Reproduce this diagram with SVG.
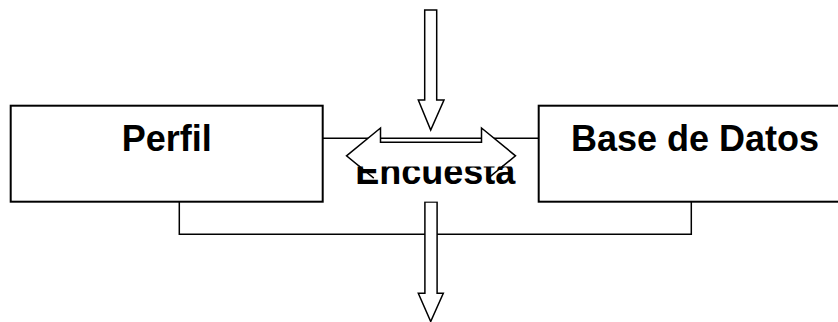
<svg xmlns="http://www.w3.org/2000/svg" width="838" height="322" viewBox="0 0 838 322">
<style>
.box{fill:#fff;stroke:#000;stroke-width:2}
.ln{fill:none;stroke:#000;stroke-width:1.5}
.blk{fill:#fff;stroke:#000;stroke-width:1.5;stroke-linejoin:miter}
.lbl{font-family:"Liberation Sans",Arial,sans-serif;font-weight:bold;font-size:36px;fill:#000;text-anchor:middle}
</style>
<defs>
<clipPath id="encClip"><rect x="350" y="166.5" width="168" height="35"/></clipPath>
</defs>
<rect width="838" height="322" fill="#fff"/>
<g id="connectors">
<line class="ln" x1="322.7" y1="138.3" x2="538.7" y2="138.3"/>
<polyline class="ln" points="179.3,201.7 179.3,234.3 691.3,234.3 691.3,201.7"/>
<polygon class="blk" points="424.7,10 436.7,10 436.7,100 444,100 430.7,130 418.3,100 424.7,100"/>
<polygon class="blk" points="424.9,202 437.1,202 437.1,293.3 443.3,293.3 430.7,321.5 418.3,293.3 424.9,293.3"/>
<polygon class="blk" points="346.5,155.8 380.5,128 380.5,142.2 481.5,142.2 481.5,128 515.5,155.8 481.5,183.6 481.5,169.4 380.5,169.4 380.5,183.6"/>
</g>
<g id="perfil">
<rect class="box" x="10.7" y="105.7" width="312" height="96"/>
<text class="lbl" x="166.7" y="151">Perfil</text>
</g>
<g id="base-de-datos">
<rect class="box" x="538.7" y="105.7" width="315" height="96"/>
<text class="lbl" x="695" y="151">Base de Datos</text>
</g>
<g id="encuesta">
<rect x="350" y="166.5" width="165" height="35" fill="#fff"/>
<text class="lbl" x="435.3" y="183.5" clip-path="url(#encClip)">Encuesta</text>
<path class="ln" d="M358.9,166 L373.8,178.2 M503.1,166 L488.2,178.2"/>
</g>
</svg>
